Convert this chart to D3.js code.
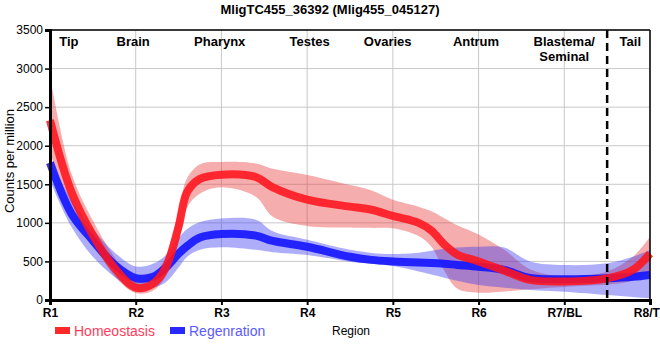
<!DOCTYPE html>
<html><head><meta charset="utf-8">
<script src="https://cdn.jsdelivr.net/npm/d3@7"></script>
<style>body{margin:0;background:#fff}svg{display:block;font-family:"Liberation Sans",Arial,sans-serif}</style>
</head><body><svg id="c" width="660" height="360"></svg>
<script>
const title = "MligTC455_36392 (Mlig455_045127)";
const tickLabels = ["R1","R2","R3","R4","R5","R6","R7/BL","R8/TL"];
const regionNames = ["Tip","Brain","Pharynx","Testes","Ovaries","Antrum","Blastema/\nSeminal","Tail"];
const regionAt = [1.22, 1.97, 2.98, 4.03, 4.94, 5.97, 7.0, 7.77];
const yTicks = [0,500,1000,1500,2000,2500,3000,3500];
const xs = [1,1.25,1.5,1.75,2,2.2,2.35,2.5,2.6,2.75,3,3.4,3.6,4,4.5,4.75,5,5.3,5.45,5.6,5.75,6,6.3,6.6,7,7.5,7.8,8];
const homeo    = [2330,1400,840,420,160,210,420,950,1400,1570,1625,1595,1460,1300,1210,1170,1090,1000,900,720,590,500,380,260,240,280,390,600];
const homeoHi  = [2900,1640,1030,560,240,320,560,1150,1580,1760,1790,1770,1700,1620,1490,1420,1300,1210,1150,1060,970,850,650,400,310,370,560,820];
const homeoLo  = [1900,1250,760,310,90,120,300,760,1200,1380,1460,1340,1080,960,940,935,930,830,690,380,150,95,110,140,170,200,250,370];
const regen    = [1780,1120,770,460,285,300,420,600,700,810,855,835,765,690,560,520,500,485,480,470,455,432,390,285,268,281,300,324];
const regenHi  = [1830,1300,920,620,435,470,580,800,920,1010,1055,1040,890,780,650,610,596,613,640,665,680,690,680,500,454,476,560,648];
const regenLo  = [1550,950,560,300,130,160,230,420,560,650,683,650,620,583,497,470,440,370,330,290,250,194,160,130,108,65,40,22];
const dashedAt = 7.5;

const svg = d3.select("#c");
const m = {l:50, r:10, t:30, b:60};
const W = 660, H = 360;
const x = d3.scaleLinear().domain([1,8]).range([m.l, W-m.r]);
const y = d3.scaleLinear().domain([0,3500]).range([H-m.b, m.t]);
const curve = d3.curveCatmullRom.alpha(0.5);

// grid
svg.append("g").selectAll("line").data(yTicks).join("line")
  .attr("x1",x(1)).attr("x2",x(8)).attr("y1",d=>y(d)).attr("y2",d=>y(d))
  .attr("stroke","#c8c8c8").attr("stroke-width",1);
svg.append("g").selectAll("line").data(d3.range(1,9)).join("line")
  .attr("x1",d=>x(d)).attr("x2",d=>x(d)).attr("y1",y(0)).attr("y2",y(3500))
  .attr("stroke","#c8c8c8").attr("stroke-width",1);

const band = (hi,lo) => d3.area().x((d,i)=>x(xs[i])).y0((d,i)=>y(lo[i])).y1((d,i)=>y(hi[i])).curve(curve)(xs);
const line = v => d3.line().x((d,i)=>x(xs[i])).y((d,i)=>y(v[i])).curve(curve)(xs);

const plot = svg.append("g");
plot.append("path").attr("d",band(homeoHi,homeoLo)).attr("fill","rgb(230,60,60)").attr("fill-opacity",0.42);
plot.append("path").attr("d",band(regenHi,regenLo)).attr("fill","rgb(60,60,240)").attr("fill-opacity",0.42);
plot.append("path").attr("d",line(regen)).attr("fill","none").attr("stroke","rgb(20,20,255)").attr("stroke-opacity",0.9).attr("stroke-width",8);
plot.append("path").attr("d",line(homeo)).attr("fill","none").attr("stroke","rgb(255,20,30)").attr("stroke-opacity",0.88).attr("stroke-width",8);

// dashed line
svg.append("line").attr("x1",x(dashedAt)).attr("x2",x(dashedAt)).attr("y1",y(3500)).attr("y2",y(0))
  .attr("stroke","#000").attr("stroke-width",2.5).attr("stroke-dasharray","8,5");

// frame
svg.append("line").attr("x1",x(1)).attr("x2",x(8)).attr("y1",y(3500)).attr("y2",y(3500)).attr("stroke","#000").attr("stroke-width",1.5);
svg.append("line").attr("x1",x(8)).attr("x2",x(8)).attr("y1",y(3500)).attr("y2",y(0)).attr("stroke","#000").attr("stroke-width",1.5);

// axes
const yAxis = svg.append("g").attr("transform",`translate(${x(1)},0)`)
  .call(d3.axisLeft(y).tickValues(yTicks).tickSize(5).tickPadding(2).tickFormat(d3.format("d")));
yAxis.select(".domain").attr("stroke-width",3);
yAxis.selectAll("text").attr("font-size",12).attr("fill","#000").attr("font-family","Liberation Sans, Arial");
const xAxis = svg.append("g").attr("transform",`translate(0,${y(0)})`)
  .call(d3.axisBottom(x).tickValues(d3.range(1,9)).tickSize(5).tickPadding(3).tickFormat((d,i)=>tickLabels[i]));
xAxis.select(".domain").attr("stroke-width",3);
xAxis.selectAll("text").attr("font-size",12).attr("font-weight","bold").attr("fill","#000").attr("font-family","Liberation Sans, Arial");
xAxis.selectAll(".tick line").attr("stroke-width",2);
yAxis.selectAll(".tick line").attr("stroke-width",1.5);

// region labels
regionNames.forEach((n,i)=>{
  const t = svg.append("text").attr("x",x(regionAt[i])).attr("y",46).attr("text-anchor","middle")
    .attr("font-size",13).attr("font-weight","bold").attr("fill","#000");
  n.split("\n").forEach((s,j)=>t.append("tspan").attr("x",x(regionAt[i])).attr("dy",j?15:0).text(s));
});

// title
svg.append("text").attr("x",330).attr("y",14).attr("text-anchor","middle").attr("font-size",13).attr("font-weight","bold").text(title);

// y title
svg.append("text").attr("transform","translate(14,161) rotate(-90)").attr("text-anchor","middle").attr("font-size",13).text("Counts per million");
// x title
svg.append("text").attr("x",332).attr("y",335).attr("font-size",12).text("Region");

// legend
const legend = [{n:"Homeostasis",c:"rgb(255,40,40)",t:"rgb(255,60,90)"},{n:"Regenration",c:"rgb(40,40,255)",t:"rgb(90,90,255)"}];
const lx = [55,170];
legend.forEach((d,i)=>{
  svg.append("rect").attr("x",lx[i]).attr("y",327).attr("width",15).attr("height",7).attr("fill",d.c);
  svg.append("text").attr("x",lx[i]+19).attr("y",336).attr("font-size",14).attr("fill",d.t).text(d.n);
});
</script></body></html>
